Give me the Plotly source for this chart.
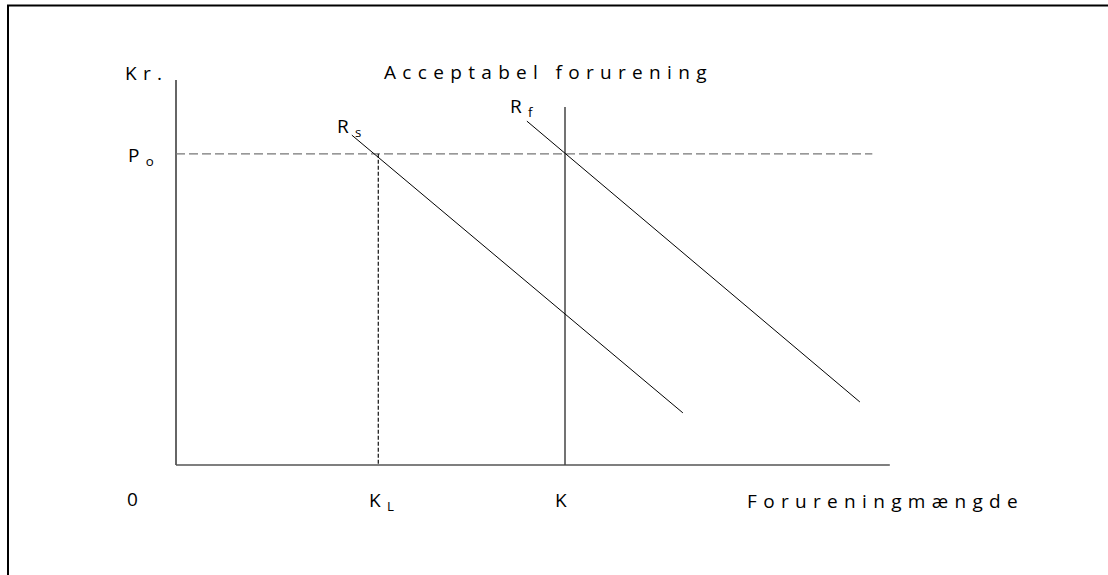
import plotly.graph_objects as go

# ---- data (economic units) ----
K_L = 5.2          # tilladt mængde
K = 10.0           # faktisk mængde
P0 = 8.0           # pris
Y_TOP = 9.9        # top of price axis
X_END = 18.35      # end of quantity axis
P0_END = 17.9      # end of dashed price line
K_TOP = 9.2        # top of K line
Rs_x = [4.52, 13.03]
Rs_y = [8.48, 1.34]
Rf_x = [9.02, 17.58]
Rf_y = [8.84, 1.62]

title_text = "Acceptabel forurening"
y_label = "Kr."
x_label = "Forureningmængde"
origin_label = "0"
price_label = ("P", "o")
curve_labels = [("R", "s"), ("R", "f")]
tick_labels = [("K", "L"), ("K", "")]

SEP = "\u2004"

def spaced(s):
    return SEP.join(list(s))

def sub(base, s):
    return base + "\u2004" + "<sub>" + s + "</sub>" if s else base

W, H = 1108, 575
# pixel mapping: origin at (176, 465), 38.9 px per unit
ox, oy, k = 176.0, 465.0, 38.9
xr = [(0 - ox) / k, (W - ox) / k]
yr = [(oy - H) / k, oy / k]

fig = go.Figure()
# axes
fig.add_trace(go.Scatter(x=[0, 0], y=[Y_TOP, 0], mode="lines", line=dict(color="#333333", width=1.5)))
fig.add_trace(go.Scatter(x=[0, X_END], y=[0, 0], mode="lines", line=dict(color="#555555", width=1.5)))
# P0 dashed
fig.add_trace(go.Scatter(x=[0, P0_END], y=[P0, P0], mode="lines",
                         line=dict(color="#777777", width=1.3, dash="9px,4px")))
# K_L dashed vertical
fig.add_trace(go.Scatter(x=[K_L, K_L], y=[P0, 0], mode="lines",
                         line=dict(color="#111111", width=1.2, dash="4px,2px")))
# K vertical
fig.add_trace(go.Scatter(x=[K, K], y=[K_TOP, 0], mode="lines", line=dict(color="#444444", width=1.5)))
# demand curves
fig.add_trace(go.Scatter(x=Rs_x, y=Rs_y, mode="lines", line=dict(color="black", width=1)))
fig.add_trace(go.Scatter(x=Rf_x, y=Rf_y, mode="lines", line=dict(color="black", width=1)))

font = dict(family="Open Sans", size=19, color="black")
def px2x(p):
    return (p - ox) / k
def py2y(p):
    return (oy - p) / k

anns = [
    (px2x(143), py2y(73), "center", spaced(y_label)),
    (px2x(545), py2y(72), "center", spaced(title_text)),
    (px2x(335), py2y(127), "left", sub(*curve_labels[0])),
    (px2x(508), py2y(107), "left", sub(*curve_labels[1])),
    (px2x(126), py2y(156), "left", sub(*price_label)),
    (px2x(132), py2y(499), "center", origin_label),
    (px2x(367), py2y(501), "left", sub(*tick_labels[0])),
    (px2x(561), py2y(500), "center", sub(*tick_labels[1])),
    (px2x(882), py2y(501), "center", spaced(x_label)),
]
for ax_, ay_, anc, t in anns:
    fig.add_annotation(x=ax_, y=ay_, text=t, showarrow=False, xanchor=anc, yanchor="middle",
                       font=font)

# outer frame
fig.add_shape(type="rect", xref="paper", yref="paper", x0=8 / W, x1=1.05, y0=-0.05, y1=1 - 5.5 / H,
              line=dict(color="black", width=2), layer="above")

fig.update_layout(
    width=W, height=H, margin=dict(l=0, r=0, t=0, b=0),
    paper_bgcolor="white", plot_bgcolor="white", showlegend=False,
    xaxis=dict(range=xr, visible=False, fixedrange=True),
    yaxis=dict(range=yr, visible=False, fixedrange=True),
)
fig.write_html("out.html", config={"displayModeBar": False},
               post_script="document.body.style.margin='0';document.body.style.overflow='hidden';")
